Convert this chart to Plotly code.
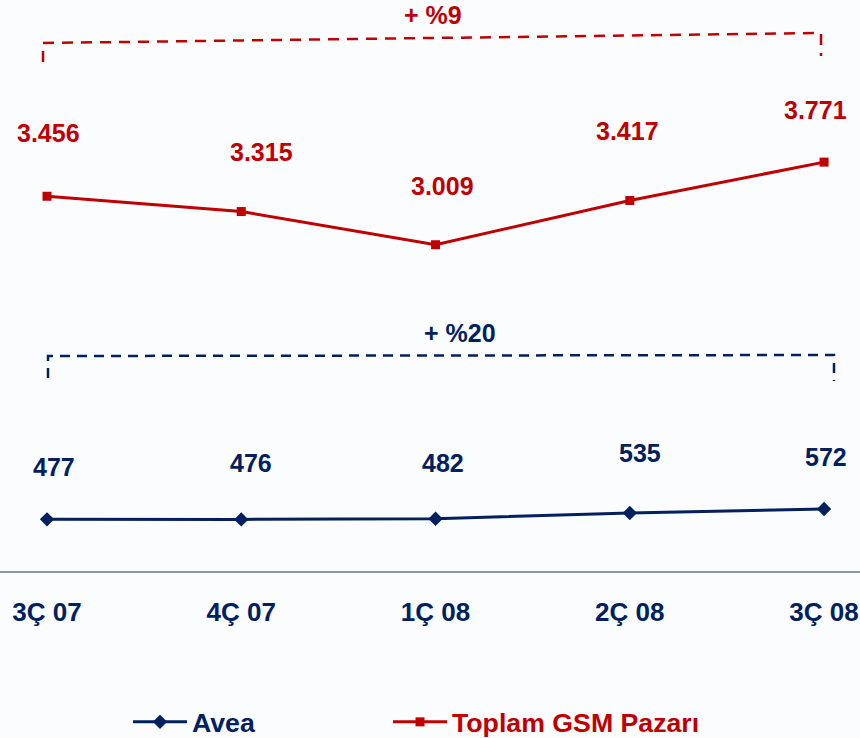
import plotly.graph_objects as go

QUARTERS = ["3Ç 07", "4Ç 07", "1Ç 08", "2Ç 08", "3Ç 08"]
AVEA = [477, 476, 482, 535, 572]
TOPLAM_GSM = [3456, 3315, 3009, 3417, 3771]
AVEA_GROWTH = "+ %20"
GSM_GROWTH = "+ %9"

RED = "#C00000"
NAVY = "#002060"
FONT = "Liberation Sans"

# label offsets in px (x, y) relative to each point
RED_SHIFT = [(1, 63), (20, 60), (7, 59), (-2, 69), (-9, 52)]
NAVY_SHIFT = [(7, 52), (10, 56), (7, 56), (10, 60), (2, 52)]

W, H = 860, 738
PLOT_BOTTOM = 571  # px from top


def fmt(v):
    return f"{v:,}".replace(",", ".")


def px(x):
    return x / W


def py(y):
    return (PLOT_BOTTOM - y) / PLOT_BOTTOM


def main():
    xs = list(range(len(QUARTERS)))
    fig = go.Figure()
    fig.add_trace(go.Scatter(
        x=xs, y=AVEA, name="Avea", mode="lines+markers", legend="legend",
        line=dict(color=NAVY, width=3),
        marker=dict(symbol="diamond", size=11, color=NAVY),
    ))
    fig.add_trace(go.Scatter(
        x=xs, y=TOPLAM_GSM, name="Toplam GSM Pazarı", mode="lines+markers", legend="legend2",
        line=dict(color=RED, width=3),
        marker=dict(symbol="square", size=9, color=RED),
    ))

    for series, color, shifts in ((TOPLAM_GSM, RED, RED_SHIFT), (AVEA, NAVY, NAVY_SHIFT)):
        for i, v in enumerate(series):
            fig.add_annotation(
                x=i, y=v, text=fmt(v), showarrow=False,
                xshift=shifts[i][0], yshift=shifts[i][1],
                font=dict(family=FONT, size=25, color=color, weight="bold"),
            )

    # growth brackets
    fig.add_shape(type="path", xref="paper", yref="paper",
                  path=f"M{px(43)},{py(62)} L{px(43)},{py(43)} L{px(821)},{py(33)} L{px(821)},{py(56)}",
                  line=dict(color=RED, width=2.5, dash="11px,8px"))
    fig.add_shape(type="path", xref="paper", yref="paper",
                  path=f"M{px(48)},{py(378)} L{px(48)},{py(356)} L{px(834)},{py(355)} L{px(834)},{py(381)}",
                  line=dict(color=NAVY, width=2.5, dash="10px,7px"))
    fig.add_annotation(x=px(433), y=py(15.5), xref="paper", yref="paper", text=GSM_GROWTH,
                       xanchor="center", yanchor="middle", showarrow=False,
                       font=dict(family=FONT, size=25, color=RED, weight="bold"))
    fig.add_annotation(x=px(460), y=py(333), xref="paper", yref="paper", text=AVEA_GROWTH,
                       xanchor="center", yanchor="middle", showarrow=False,
                       font=dict(family=FONT, size=25, color=NAVY, weight="bold"))

    fig.update_xaxes(
        range=[-0.242, 4.185], tickvals=xs, ticktext=QUARTERS,
        showgrid=False, zeroline=False, showline=True, linecolor="#8C93A8", linewidth=2,
        ticks="", ticklabelstandoff=17,
        tickfont=dict(family=FONT, size=26, color=NAVY, weight="bold"),
    )
    fig.update_yaxes(range=[0, 5266], visible=False, showgrid=False, zeroline=False)

    fig.update_layout(
        width=W, height=H,
        margin=dict(l=0, r=0, t=0, b=H - PLOT_BOTTOM, autoexpand=False),
        plot_bgcolor="#FBFCFE", paper_bgcolor="#FBFCFE",
        showlegend=True,
        legend=dict(orientation="h", x=px(128), y=py(722), xanchor="left", yanchor="middle",
                    itemwidth=54, bgcolor="rgba(0,0,0,0)",
                    font=dict(family=FONT, size=26.7, color=NAVY, weight="bold")),
        legend2=dict(orientation="h", x=px(388), y=py(722), xanchor="left", yanchor="middle",
                     itemwidth=54, bgcolor="rgba(0,0,0,0)",
                     font=dict(family=FONT, size=26.7, color=RED, weight="bold")),
    )
    fig.write_html("out.html", config={"displayModeBar": False},
                   post_script="document.body.style.margin='0';document.body.style.overflow='hidden';")


if __name__ == "__main__":
    main()
